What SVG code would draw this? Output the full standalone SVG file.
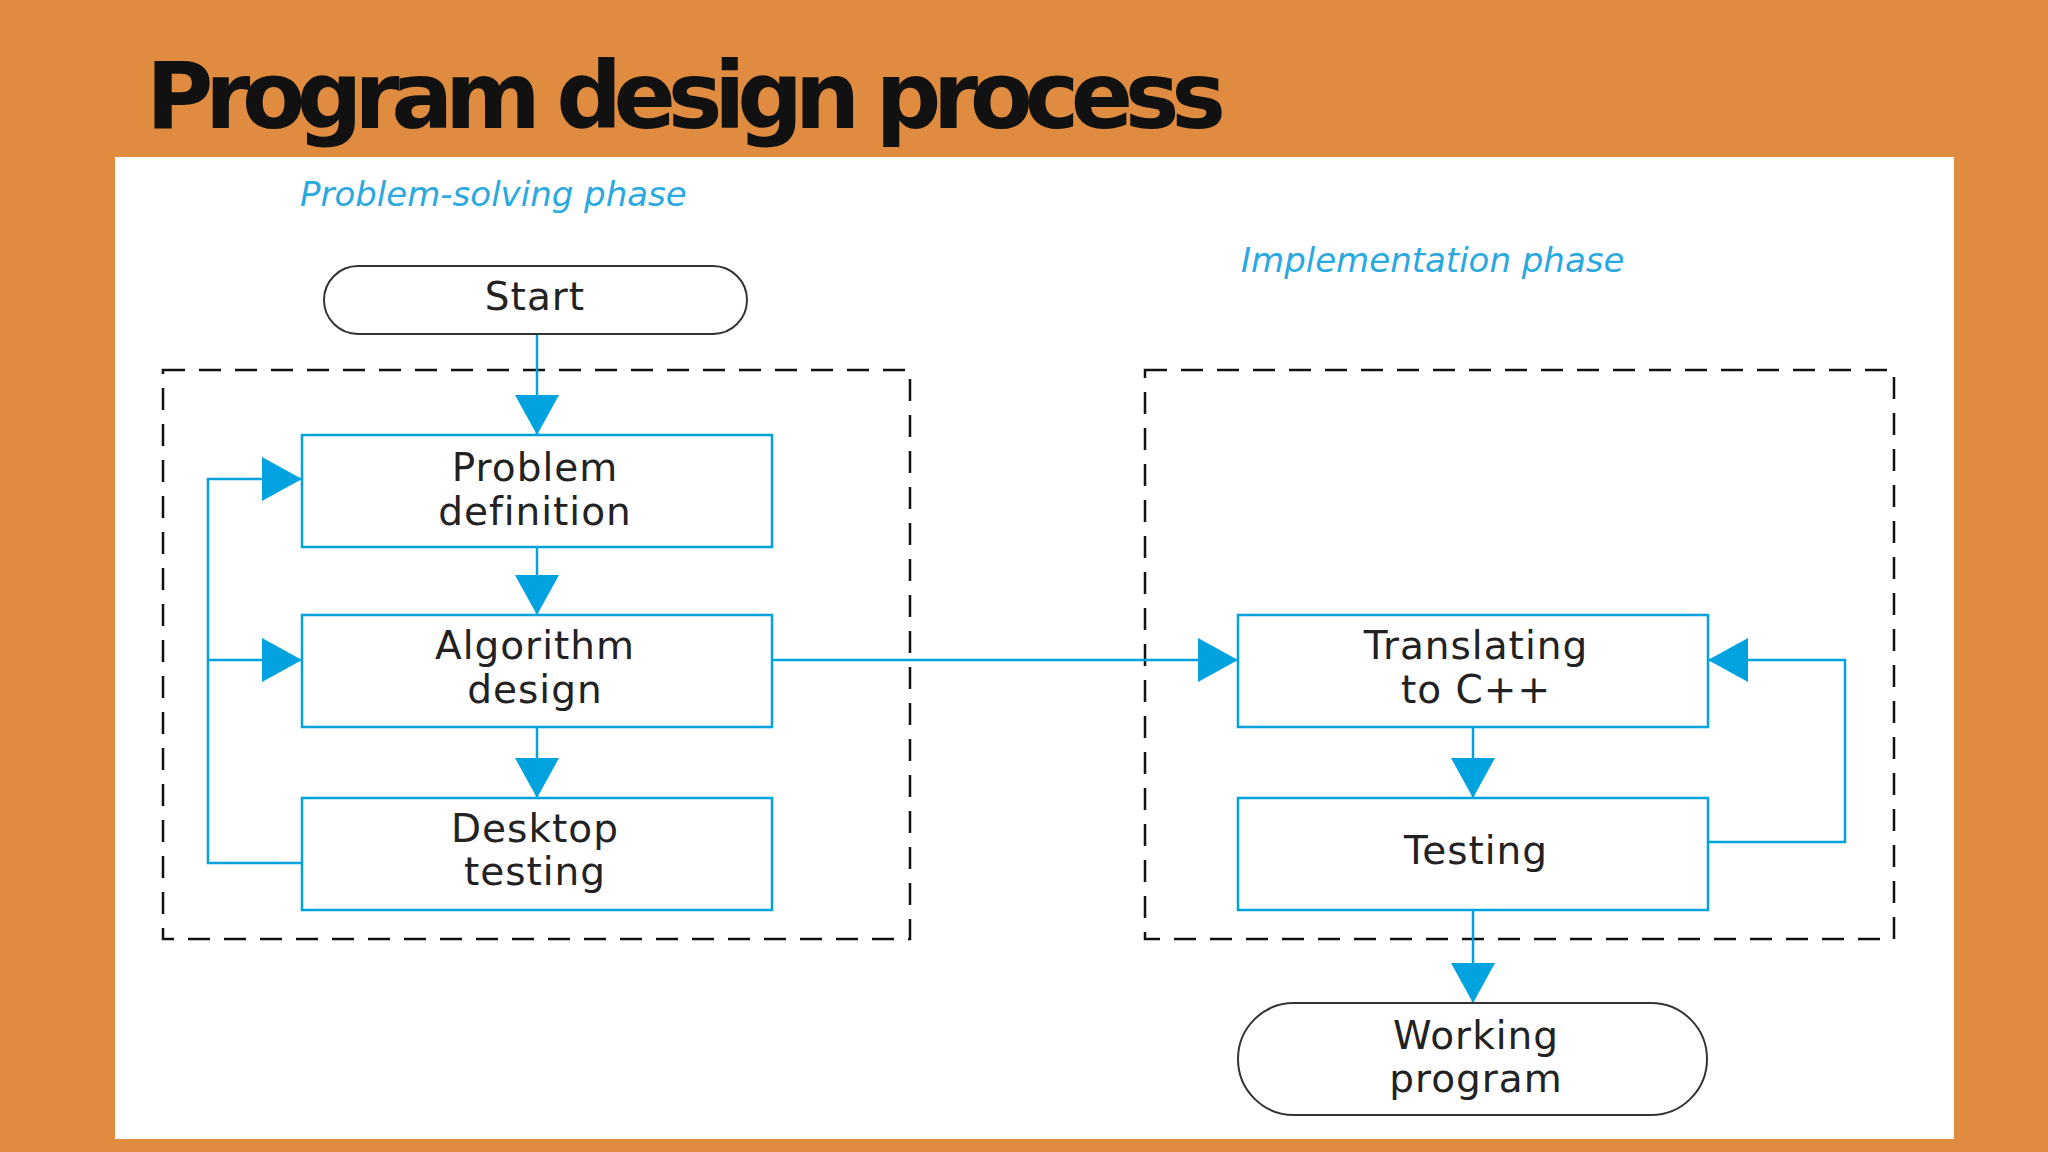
<svg xmlns="http://www.w3.org/2000/svg" width="2048" height="1152" viewBox="0 0 2048 1152">
<defs>
<style>
.box{fill:#fff;stroke:#00a3e0;stroke-width:2.5}
.term{fill:#fff;stroke:#333;stroke-width:2}
.dash{fill:none;stroke:#111;stroke-width:2.5;stroke-dasharray:22 14}
.ln{fill:none;stroke:#00a3e0;stroke-width:2.5}
.t{font-family:"DejaVu Sans",sans-serif;font-size:39px;fill:#222;text-anchor:middle;letter-spacing:1px}
.ph{font-family:"DejaVu Sans",sans-serif;font-style:italic;font-size:34px;fill:#2aa8e0}
</style>
<marker id="ah" viewBox="0 0 40 44" refX="40" refY="22" markerWidth="40" markerHeight="44" markerUnits="userSpaceOnUse" orient="auto"><path d="M0,0 L40,22 L0,44 z" fill="#00a3e0"/></marker>
</defs>
<rect width="2048" height="1152" fill="#df8b40"/>
<rect x="115" y="157" width="1839" height="982" fill="#fff"/>
<text x="146" y="128" font-family="DejaVu Sans,sans-serif" font-weight="bold" font-size="92" fill="#111" textLength="1080">Program design process</text>
<text class="ph" x="300" y="206">Problem-solving phase</text>
<text class="ph" x="1241" y="272">Implementation phase</text>
<rect class="dash" x="163" y="370" width="747" height="569"/>
<rect class="dash" x="1145" y="370" width="749" height="569"/>
<g id="connectors">
<path class="ln" d="M537,334 V435" marker-end="url(#ah)"/>
<path class="ln" d="M537,547 V615" marker-end="url(#ah)"/>
<path class="ln" d="M537,727 V798" marker-end="url(#ah)"/>
<path class="ln" d="M302,863 H208 V479 H302" marker-end="url(#ah)"/>
<path class="ln" d="M208,660 H302" marker-end="url(#ah)"/>
<path class="ln" d="M772,660 H1238" marker-end="url(#ah)"/>
<path class="ln" d="M1473,727 V798" marker-end="url(#ah)"/>
<path class="ln" d="M1708,842 H1845 V660 H1708" marker-end="url(#ah)"/>
<path class="ln" d="M1473,910 V1003" marker-end="url(#ah)"/>
</g>
<g id="start"><rect class="term" x="324" y="266" width="423" height="68" rx="34"/><text class="t" x="535" y="310">Start</text></g>
<g id="probdef"><rect class="box" x="302" y="435" width="470" height="112"/><text class="t" x="535" y="481">Problem</text><text class="t" x="535" y="525">definition</text></g>
<g id="algo"><rect class="box" x="302" y="615" width="470" height="112"/><text class="t" x="535" y="659">Algorithm</text><text class="t" x="535" y="703">design</text></g>
<g id="desk"><rect class="box" x="302" y="798" width="470" height="112"/><text class="t" x="535" y="842">Desktop</text><text class="t" x="535" y="885">testing</text></g>
<g id="trans"><rect class="box" x="1238" y="615" width="470" height="112"/><text class="t" x="1476" y="659">Translating</text><text class="t" x="1476" y="703">to C++</text></g>
<g id="testing"><rect class="box" x="1238" y="798" width="470" height="112"/><text class="t" x="1476" y="864">Testing</text></g>
<g id="working"><rect class="term" x="1238" y="1003" width="469" height="112" rx="56"/><text class="t" x="1476" y="1049">Working</text><text class="t" x="1476" y="1092">program</text></g>
</svg>
